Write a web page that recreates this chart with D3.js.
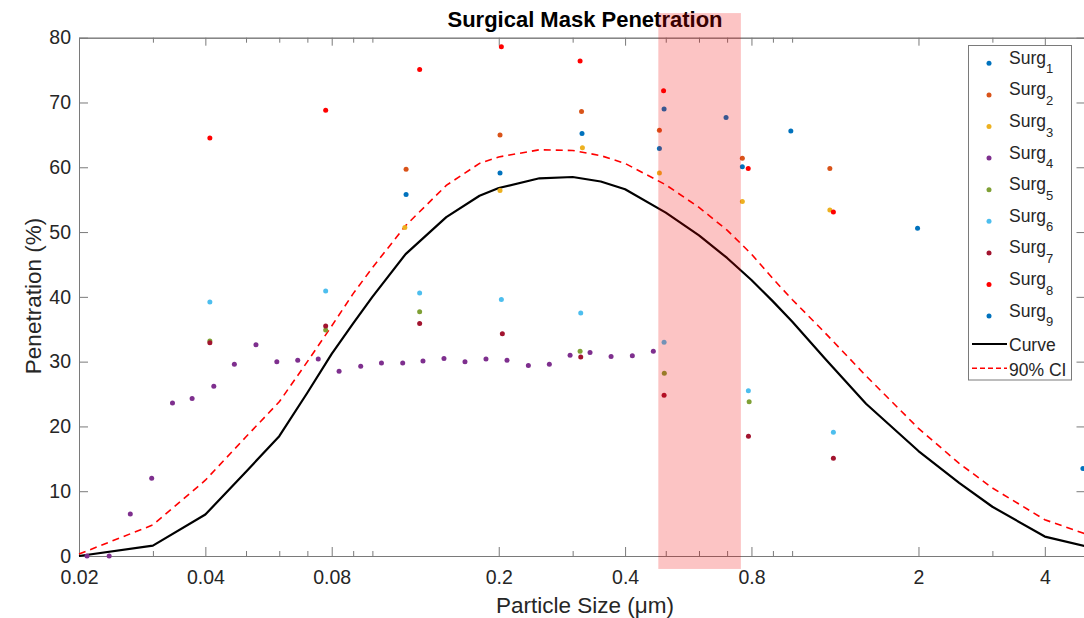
<!DOCTYPE html>
<html><head><meta charset="utf-8">
<script src="https://cdn.jsdelivr.net/npm/d3@7"></script>
<style>
body{margin:0;background:#fff;}
svg{display:block;font-family:"Liberation Sans",Arial,Helvetica,sans-serif;}
</style>
</head><body>
<svg id="c" width="1084" height="618"></svg>
<script>
// ---------- data ----------
const seriesIds = ["1","2","3","4","5","6","7","8","9"];
const seriesColors = ["#0072BD","#D95319","#EDB120","#7E2F8E","#7FA035","#4DBEEE","#A2142F","#FF0000","#0072BD"];

const surg1X = [0.1203, 0.2014, 0.3158, 0.4828, 0.761];
const surg1Y = [55.8, 59.1, 65.2, 62.9, 60.1];
const surg2X = [0.1203, 0.2014, 0.3150, 0.4828, 0.761, 1.23];
const surg2Y = [59.7, 65.0, 68.6, 65.7, 61.4, 59.8];
const surg3X = [0.1195, 0.2014, 0.3165, 0.4828, 0.761, 1.23];
const surg3Y = [50.7, 56.4, 63.0, 59.1, 54.7, 53.4];
const surg4X = [0.0209, 0.0236, 0.0265, 0.0298, 0.0334, 0.0372, 0.0419, 0.0469, 0.0528, 0.0592,
                0.0664, 0.0743, 0.0833, 0.0938, 0.1051, 0.1181, 0.1320, 0.1481, 0.1662, 0.1865,
                0.2093, 0.2353, 0.2640, 0.2958, 0.3300, 0.3704, 0.4162, 0.4670];
const surg4Y = [0, 0, 6.5, 12.0, 23.6, 24.3, 26.2, 29.6, 32.6, 30.0,
                30.2, 30.4, 28.5, 29.3, 29.8, 29.8, 30.1, 30.5, 30.0, 30.4,
                30.2, 29.4, 29.6, 31.0, 31.4, 30.8, 30.9, 31.6];
const surg5X = [0.041, 0.0774, 0.1296, 0.3125, 0.4960, 0.790];
const surg5Y = [33.2, 34.9, 37.7, 31.6, 28.2, 23.8];
const surg6X = [0.041, 0.0774, 0.1296, 0.2029, 0.3136, 0.4954, 0.7866, 1.254];
const surg6Y = [39.2, 40.9, 40.6, 39.6, 37.5, 33.0, 25.5, 19.1];
const surg7X = [0.041, 0.0774, 0.1296, 0.2040, 0.3136, 0.4954, 0.787, 1.254];
const surg7Y = [32.9, 35.5, 35.9, 34.3, 30.7, 24.8, 18.5, 15.1];
const surg8X = [0.041, 0.0774, 0.1296, 0.2029, 0.3125, 0.4940, 0.786, 1.254];
const surg8Y = [64.5, 68.8, 75.1, 78.6, 76.4, 71.8, 59.8, 53.1];
const surg9X = [0.4954, 0.696, 0.993, 1.99, 4.93];
const surg9Y = [69.0, 67.7, 65.6, 50.6, 13.5];

const curveX = [0.02, 0.03, 0.04, 0.05, 0.06, 0.07, 0.08, 0.09, 0.1, 0.12, 0.15, 0.18, 0.2, 0.25, 0.3, 0.35,
                0.4, 0.5, 0.6, 0.7, 0.8, 0.9, 1.0, 1.2, 1.5, 2.0, 2.5, 3.0, 4.0, 5.0];
const curveY = [0.0, 1.6, 6.4, 13.0, 18.5, 25.2, 31.2, 35.9, 40.0, 46.6, 52.3, 55.6, 56.8, 58.3, 58.5, 57.8,
                56.6, 53.0, 49.5, 46.0, 42.6, 39.3, 36.2, 30.4, 23.5, 16.2, 11.3, 7.6, 3.0, 1.5];
const ciY    = [0.3, 4.8, 11.7, 18.4, 23.8, 30.0, 35.5, 40.5, 44.5, 51.0, 57.2, 60.6, 61.6, 62.7, 62.6, 61.8,
                60.6, 57.3, 53.8, 50.3, 46.6, 42.8, 39.6, 34.4, 27.8, 19.7, 14.3, 10.5, 5.6, 3.4];

const xMajorTicks = [0.02, 0.04, 0.08, 0.2, 0.4, 0.8, 2, 4];
const xMinorTicks = [0.03, 0.05, 0.06, 0.07, 0.09, 0.1, 0.3, 0.5, 0.6, 0.7, 0.9, 1, 3];
const yTicks = [0, 10, 20, 30, 40, 50, 60, 70, 80];
const bandX = [0.48, 0.755];
const bandY = [-2.0, 83.8];

const titleText = "Surgical Mask Penetration";
const xLabel = "Particle Size (\u03bcm)";
const yLabel = "Penetration (%)";
const curveLabel = "Curve";
const ciLabel = "90% CI";

const seriesX = [surg1X, surg2X, surg3X, surg4X, surg5X, surg6X, surg7X, surg8X, surg9X];
const seriesY = [surg1Y, surg2Y, surg3Y, surg4Y, surg5Y, surg6Y, surg7Y, surg8Y, surg9Y];

// ---------- chart ----------
const svg = d3.select("#c");
const x = d3.scaleLog().domain([0.02, 5]).range([79, 1085.5]);
const y = d3.scaleLinear().domain([0, 80]).range([556, 37.7]);
const axisColor = "#7a7a7a", textColor = "#262626";

function styleAxis(g, fs) {
  g.select(".domain").attr("stroke", axisColor);
  g.selectAll(".tick line").attr("stroke", axisColor);
  g.selectAll(".tick text").attr("fill", textColor).attr("font-size", fs);
  g.attr("font-family", null);
}

// bottom
svg.append("g").attr("transform", "translate(0,556)")
  .call(d3.axisBottom(x).tickValues(xMajorTicks).tickFormat(d => String(d)).tickSizeInner(-9).tickSizeOuter(0).tickPadding(14))
  .call(g => styleAxis(g, 19.5));
svg.append("g").attr("transform", "translate(0,556)")
  .call(d3.axisBottom(x).tickValues(xMinorTicks).tickFormat("").tickSizeInner(-5).tickSizeOuter(0))
  .call(g => styleAxis(g, 19.5));
// top
svg.append("g").attr("transform", "translate(0,37.7)")
  .call(d3.axisTop(x).tickValues(xMajorTicks).tickFormat("").tickSizeInner(-8).tickSizeOuter(0))
  .call(g => styleAxis(g, 19.5));
svg.append("g").attr("transform", "translate(0,37.7)")
  .call(d3.axisTop(x).tickValues(xMinorTicks).tickFormat("").tickSizeInner(-5).tickSizeOuter(0))
  .call(g => styleAxis(g, 19.5));
// left
svg.append("g").attr("transform", "translate(79,0)")
  .call(d3.axisLeft(y).tickValues(yTicks).tickSizeInner(-9).tickSizeOuter(0).tickPadding(8))
  .call(g => styleAxis(g, 19.5));
// right
svg.append("g").attr("transform", "translate(1085.5,0)")
  .call(d3.axisRight(y).tickValues(yTicks).tickFormat("").tickSizeInner(-9).tickSizeOuter(0))
  .call(g => styleAxis(g, 19.5));

// title & labels
svg.append("text").attr("x", 585).attr("y", 27).attr("text-anchor", "middle")
  .attr("font-size", 22).attr("font-weight", "bold").attr("fill", "#000").text(titleText);
svg.append("text").attr("x", 585).attr("y", 613).attr("text-anchor", "middle")
  .attr("font-size", 22.5).attr("fill", textColor).text(xLabel);
svg.append("text").attr("transform", "translate(41,296) rotate(-90)").attr("text-anchor", "middle")
  .attr("font-size", 22.5).attr("fill", textColor).text(yLabel);

// curves
const lineGen = d3.line().x(d => x(d[0])).y(d => y(d[1]));
svg.append("path").datum(curveX.map((v, i) => [v, ciY[i]]))
  .attr("d", lineGen).attr("fill", "none").attr("stroke", "#FF0000")
  .attr("stroke-width", 1.6).attr("stroke-dasharray", "7,5");
svg.append("path").datum(curveX.map((v, i) => [v, curveY[i]]))
  .attr("d", lineGen).attr("fill", "none").attr("stroke", "#000")
  .attr("stroke-width", 2.2).attr("stroke-linejoin", "round");

// points
seriesX.forEach((xs, s) => {
  svg.append("g").selectAll("circle").data(xs.map((v, i) => [v, seriesY[s][i]]))
    .join("circle")
    .attr("cx", d => x(d[0])).attr("cy", d => y(d[1])).attr("r", 2.5)
    .attr("fill", seriesColors[s]);
});

// highlighted band
svg.append("rect")
  .attr("x", x(bandX[0])).attr("width", x(bandX[1]) - x(bandX[0]))
  .attr("y", y(bandY[1])).attr("height", y(bandY[0]) - y(bandY[1]))
  .attr("fill", "rgba(240,0,0,0.23)");

// legend
const lg = svg.append("g");
lg.append("rect").attr("x", 968.5).attr("y", 45.5).attr("width", 103).attr("height", 334.5)
  .attr("fill", "#fff").attr("stroke", axisColor).attr("stroke-width", 1);
seriesIds.forEach((id, i) => {
  const cy = 63.3 + i * 31.6;
  lg.append("circle").attr("cx", 989).attr("cy", cy).attr("r", 2.5).attr("fill", seriesColors[i]);
  const t = lg.append("text").attr("x", 1009).attr("y", cy + 0.5).attr("font-size", 17.5).attr("fill", textColor);
  t.append("tspan").text("Surg");
  t.append("tspan").attr("font-size", 13).attr("dy", 9.5).text(id);
});
lg.append("line").attr("x1", 972).attr("x2", 1007).attr("y1", 344).attr("y2", 344)
  .attr("stroke", "#000").attr("stroke-width", 2.2);
lg.append("text").attr("x", 1009).attr("y", 351).attr("font-size", 17.5).attr("fill", textColor).text(curveLabel);
lg.append("line").attr("x1", 972).attr("x2", 1007).attr("y1", 368.3).attr("y2", 368.3)
  .attr("stroke", "#FF0000").attr("stroke-width", 1.6).attr("stroke-dasharray", "5,3");
lg.append("text").attr("x", 1009).attr("y", 376).attr("font-size", 17.5).attr("fill", textColor).text(ciLabel);
</script>
</body></html>
